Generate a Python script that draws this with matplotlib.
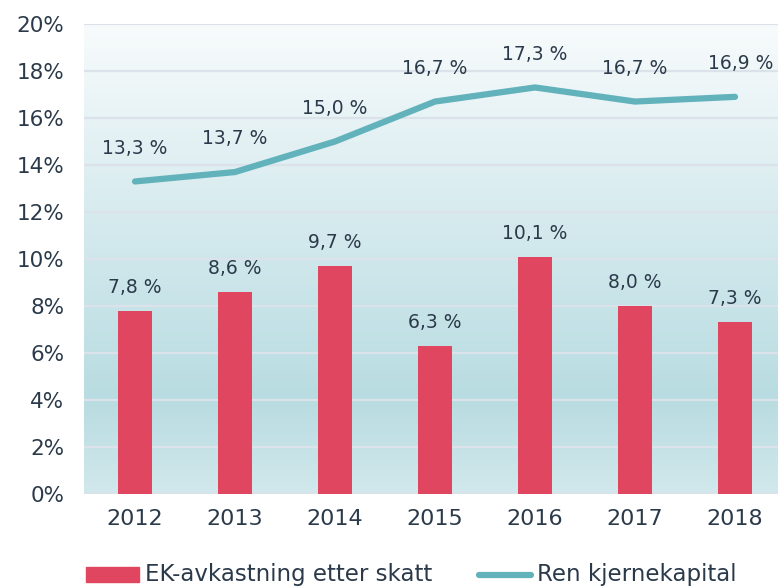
import matplotlib
matplotlib.use("Agg")
import matplotlib.pyplot as plt
import numpy as np
from matplotlib.colors import LinearSegmentedColormap
from matplotlib.patches import Rectangle
from matplotlib.lines import Line2D

# data
years = ["2012", "2013", "2014", "2015", "2016", "2017", "2018"]
ek_avkastning = [7.8, 8.6, 9.7, 6.3, 10.1, 8.0, 7.3]
ren_kjernekapital = [13.3, 13.7, 15.0, 16.7, 17.3, 16.7, 16.9]
yticks = [0, 2, 4, 6, 8, 10, 12, 14, 16, 18, 20]

RED = "#e0465f"
TEAL = "#62b2bc"
TXT = "#2b3a4a"


def fmt(v):
    return f"{v:.1f} %".replace(".", ",")


plt.rcParams["font.family"] = ["DejaVu Sans"]

fig = plt.figure(figsize=(7.78, 5.86), dpi=100)
ax = fig.add_axes([84 / 778, 1 - 494 / 586, 694 / 778, 470 / 586])

x = np.arange(len(years))
ax.set_xlim(-0.51, 6.43)
ax.set_ylim(0, 20)

# gradient background
cmap = LinearSegmentedColormap.from_list(
    "bg", [(0.0, "#d2e8ec"), (0.2, "#b8dce1"), (0.55, "#d3e9ed"), (1.0, "#f8fbfc")]
)
grad = np.linspace(0, 1, 256).reshape(-1, 1)
ax.imshow(grad, cmap=cmap, aspect="auto", origin="lower",
          extent=[-0.51, 6.43, 0, 20], zorder=0)

for t in yticks:
    ax.axhline(t, color="#dce2ea", lw=1.6, zorder=1)

ax.bar(x, ek_avkastning, width=0.34, color=RED, zorder=2)
ax.plot(x, ren_kjernekapital, color=TEAL, lw=4.5, solid_capstyle="round",
        solid_joinstyle="round", zorder=3)

for xi, v in zip(x, ek_avkastning):
    ax.annotate(fmt(v), (xi, v), xytext=(0, 17), textcoords="offset points",
                ha="center", va="center", fontsize=13.5, color=TXT)
for xi, v in zip(x, ren_kjernekapital):
    dx = 4 if xi == 6 else 0
    ax.annotate(fmt(v), (xi, v), xytext=(dx, 24), textcoords="offset points",
                ha="center", va="center", fontsize=13.5, color=TXT)

ax.set_xticks(x)
ax.set_xticklabels(years, fontsize=16, color=TXT)
ax.set_yticks(yticks)
ax.set_yticklabels([f"{t}%" for t in yticks], fontsize=15.5, color=TXT)
ax.tick_params(axis="x", length=0, pad=11)
ax.tick_params(axis="y", length=0, pad=14)
for s in ax.spines.values():
    s.set_visible(False)

# legend
fig.patches.append(Rectangle((86 / 778, 1 - 582 / 586), 53 / 778, 15 / 586,
                             transform=fig.transFigure, color=RED))
fig.text(145 / 778, 1 - 575 / 586, "EK-avkastning etter skatt", fontsize=16.5,
         color=TXT, va="center")
fig.lines.append(Line2D([479 / 778, 531 / 778], [1 - 575 / 586, 1 - 575 / 586],
                        transform=fig.transFigure, color=TEAL, lw=4.5,
                        solid_capstyle="round"))
fig.text(537 / 778, 1 - 575 / 586, "Ren kjernekapital", fontsize=16.5,
         color=TXT, va="center")

fig.savefig("out.png", dpi=100)
